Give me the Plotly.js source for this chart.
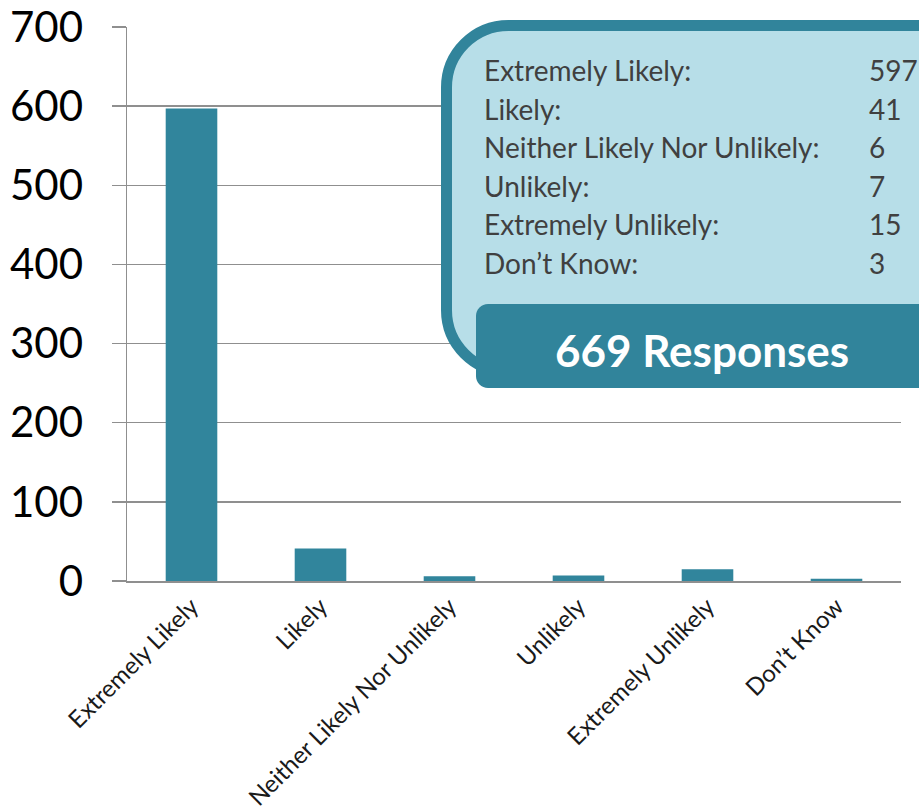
<!DOCTYPE html>
<html>
<head>
<meta charset="utf-8">
<script src="https://cdn.plot.ly/plotly-3.0.1.min.js"></script>
<style>html,body{margin:0;padding:0;background:#fff;}#chart{width:919px;height:806px;}</style>
</head>
<body>
<div id="chart"></div>
<script>
const categories = ["Extremely Likely", "Likely", "Neither Likely Nor Unlikely", "Unlikely", "Extremely Unlikely", "Don\u2019t Know"];
const counts = [597, 41, 6, 7, 15, 3];
const yTicks = [0, 100, 200, 300, 400, 500, 600, 700];

const W = 919, H = 806;
const M = {l: 127, r: 18, t: 27, b: 225};
const PW = W - M.l - M.r, PH = H - M.t - M.b;
const fx = x => (x - M.l) / PW;
const fy = y => (H - M.b - y) / PH;

function roundRect(x0, y0, x1, y1, r) {
  const k = 0.5523 * r;
  const p = (x, y) => fx(x).toFixed(5) + ',' + fy(y).toFixed(5);
  return 'M' + p(x0 + r, y0) +
    ' L' + p(x1 - r, y0) +
    ' C' + p(x1 - r + k, y0) + ' ' + p(x1, y0 + r - k) + ' ' + p(x1, y0 + r) +
    ' L' + p(x1, y1 - r) +
    ' C' + p(x1, y1 - r + k) + ' ' + p(x1 - r + k, y1) + ' ' + p(x1 - r, y1) +
    ' L' + p(x0 + r, y1) +
    ' C' + p(x0 + r - k, y1) + ' ' + p(x0, y1 - r + k) + ' ' + p(x0, y1 - r) +
    ' L' + p(x0, y0 + r) +
    ' C' + p(x0, y0 + r - k) + ' ' + p(x0 + r - k, y0) + ' ' + p(x0 + r, y0) + ' Z';
}

const total = counts.reduce((a, b) => a + b, 0);
const boxFont = {family: 'Lato, sans-serif', size: 28, color: '#404040'};

const annotations = [];
categories.forEach((c, i) => {
  const yb = 89 + i * 38.5;
  annotations.push({xref: 'paper', yref: 'paper', x: fx(482), y: fy(yb), xanchor: 'left', yanchor: 'bottom',
    text: c + ':', showarrow: false, font: boxFont, align: 'left'});
  annotations.push({xref: 'paper', yref: 'paper', x: fx(867), y: fy(yb), xanchor: 'left', yanchor: 'bottom',
    text: String(counts[i]), showarrow: false, font: boxFont, align: 'left'});
});
annotations.push({xref: 'paper', yref: 'paper', x: fx(702), y: fy(350), xanchor: 'center', yanchor: 'middle',
  text: '<b>' + total + ' Responses</b>', showarrow: false,
  font: {family: 'Lato, sans-serif', size: 44, color: '#ffffff'}});

const trace = {
  type: 'bar',
  x: categories,
  y: counts,
  marker: {color: '#31859C'},
  hoverinfo: 'x+y'
};

const layout = {
  width: W, height: H,
  margin: {l: M.l, r: M.r, t: M.t, b: M.b, pad: 0},
  paper_bgcolor: '#ffffff', plot_bgcolor: '#ffffff',
  showlegend: false,
  bargap: 0.6,
  xaxis: {
    type: 'category',
    showline: true, linecolor: '#8f8f8f', linewidth: 2,
    ticks: '', showgrid: false,
    tickangle: -45,
    tickfont: {family: 'Lato, sans-serif', size: 24, color: '#1a1a1a'}
  },
  yaxis: {
    range: [0, 700],
    tickvals: yTicks,
    ticktext: yTicks.map(String),
    showgrid: true, gridcolor: '#8f8f8f', gridwidth: 1.5,
    zeroline: false,
    showline: true, linecolor: '#8f8f8f', linewidth: 1.5,
    ticks: 'outside', ticklen: 14, tickcolor: '#8f8f8f', tickwidth: 1.5,
    ticklabelstandoff: 20,
    tickfont: {family: 'Lato, sans-serif', size: 42, color: '#000000'}
  },
  shapes: [
    {type: 'path', xref: 'paper', yref: 'paper', layer: 'above',
      path: roundRect(446.5, 25.5, 985, 372, 62),
      fillcolor: '#B7DEE8', line: {color: '#31849B', width: 11}},
    {type: 'path', xref: 'paper', yref: 'paper', layer: 'above',
      path: roundRect(476, 304, 975, 388, 12),
      fillcolor: '#31849B', line: {color: '#31849B', width: 0}}
  ],
  annotations: annotations
};

Plotly.newPlot('chart', [trace], layout, {displayModeBar: false, staticPlot: true});
</script>
</body>
</html>
